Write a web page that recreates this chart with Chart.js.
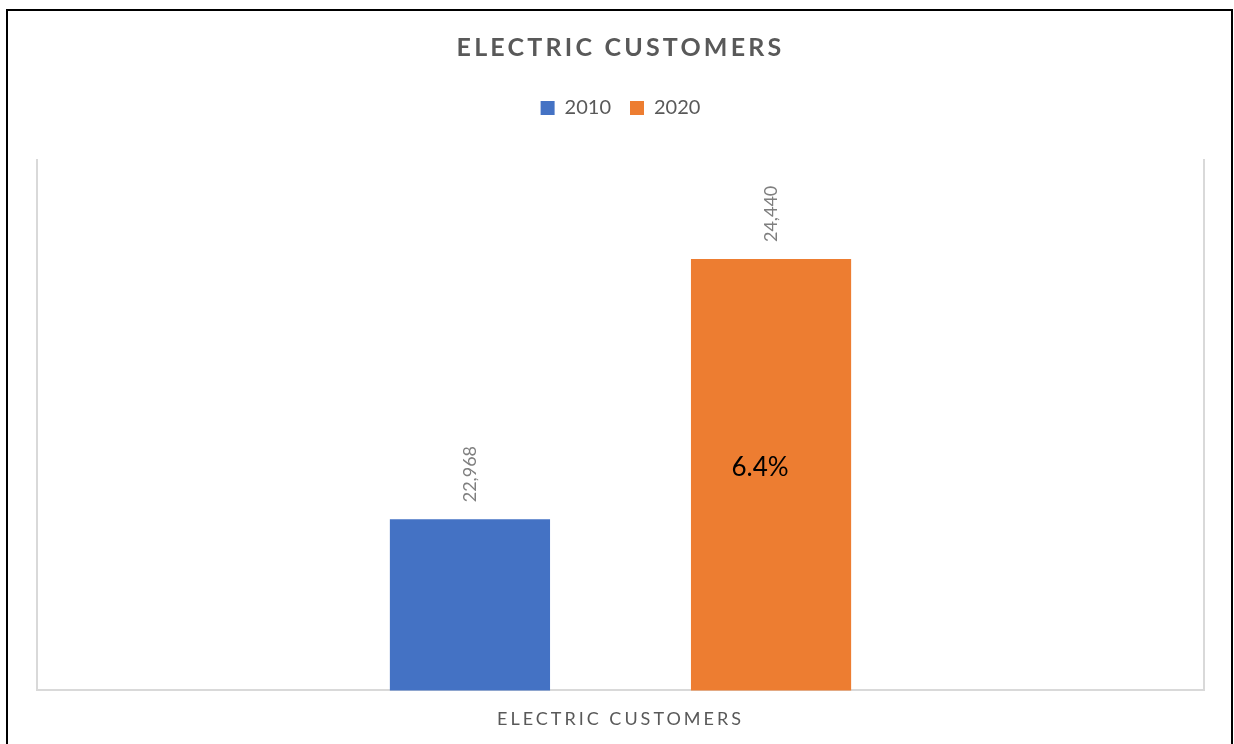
<!DOCTYPE html>
<html>
<head>
<meta charset="utf-8">
<script src="https://cdn.jsdelivr.net/npm/chart.js@4/dist/chart.umd.min.js"></script>
<style>
  html, body { margin: 0; padding: 0; background: #fff; overflow: hidden; }
  #area { position: relative; width: 1234px; height: 744px; }
  #moldura { position: absolute; left: 6px; top: 9px; width: 1223px; height: 760px; border: 2px solid #000; pointer-events: none; }
</style>
</head>
<body>
<div id="area">
  <canvas id="GraficoClientes"></canvas>
  <div id="moldura"></div>
</div>
<script>
const titulo = 'ELECTRIC CUSTOMERS';
const categorias = ['ELECTRIC CUSTOMERS'];
const anos = ['2010', '2020'];
const clientes2010 = [22968];
const clientes2020 = [24440];
const rotuloVariacao = ['6.4%'];
const eixoMin = 22000;
const eixoMax = 25000;

Chart.defaults.font.family = 'Lato';

// rotulos das barras, titulo e espacamento das letras do eixo x
const rotulos = {
    id: 'rotulos',
    afterDatasetsDraw: function (chart) {
        const ctx = chart.ctx;
        chart.data.datasets.forEach(function (ds, i) {
            chart.getDatasetMeta(i).data.forEach(function (barra, j) {
                ctx.save();
                ctx.translate(barra.x, barra.y - 17);
                ctx.rotate(-Math.PI / 2);
                ctx.font = '18px Lato';
                ctx.fillStyle = '#7f7f7f';
                ctx.textAlign = 'left';
                ctx.textBaseline = 'middle';
                ctx.fillText(ds.data[j].toLocaleString('en-US'), 0, 0);
                ctx.restore();
            });
        });

        const b = chart.getDatasetMeta(1).data[0];
        const fundo = chart.scales.y.getPixelForValue(eixoMin);
        ctx.save();
        ctx.font = '26px Lato';
        ctx.fillStyle = '#000000';
        ctx.textAlign = 'center';
        ctx.textBaseline = 'middle';
        ctx.fillText(rotuloVariacao[0], b.x - 11, (b.y + fundo) / 2 - 7);
        ctx.restore();

        ctx.save();
        ctx.font = 'bold 25px Lato';
        ctx.letterSpacing = '3.2px';
        ctx.fillStyle = '#595959';
        ctx.textAlign = 'center';
        ctx.textBaseline = 'middle';
        ctx.fillText(titulo, (chart.chartArea.left + chart.chartArea.right) / 2, 48);
        ctx.restore();

        // os rotulos do eixo x sao desenhados depois (ticks.z = 1)
        ctx.letterSpacing = '3px';
    },
    afterDraw: function (chart) {
        chart.ctx.letterSpacing = '0px';
    }
};

const borda = { color: '#d9d9d9', width: 2 };

new Chart(document.getElementById('GraficoClientes'), {
    type: 'bar',
    data: {
        labels: categorias,
        datasets: [{
            label: anos[0],
            data: clientes2010,
            backgroundColor: '#4472C4'
        }, {
            label: anos[1],
            data: clientes2020,
            backgroundColor: '#ED7D31'
        }]
    },
    options: {
        responsive: true,
        maintainAspectRatio: false,
        animation: false,
        categoryPercentage: 0.516,
        barPercentage: 0.532,
        layout: {
            padding: { top: 79, left: 29, right: 22, bottom: 4 }
        },
        plugins: {
            title: { display: false },
            tooltip: { enabled: false },
            legend: {
                position: 'top',
                labels: {
                    boxWidth: 14,
                    boxHeight: 14,
                    padding: 19,
                    color: '#595959',
                    font: { size: 20 }
                }
            }
        },
        scales: {
            x: {
                grid: { display: false },
                border: borda,
                ticks: { z: 1, color: '#595959', font: { size: 18 }, padding: 10 }
            },
            espaco: {
                type: 'category',
                axis: 'x',
                position: 'top',
                grid: { display: false },
                border: { display: false },
                ticks: { display: false },
                afterFit: function (s) { s.height = 32; }
            },
            y: {
                min: eixoMin,
                max: eixoMax,
                ticks: { display: false },
                grid: { display: false },
                border: borda
            },
            yDireita: {
                type: 'linear',
                axis: 'y',
                position: 'right',
                min: eixoMin,
                max: eixoMax,
                ticks: { display: false },
                grid: { display: false },
                border: borda
            }
        }
    },
    plugins: [rotulos]
});
</script>
</body>
</html>
